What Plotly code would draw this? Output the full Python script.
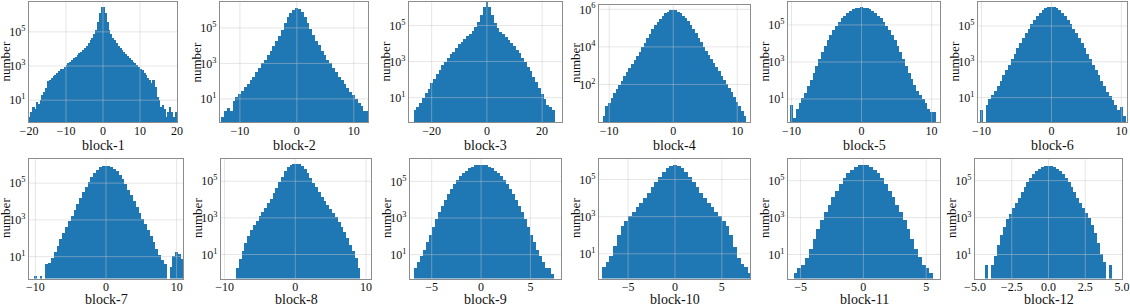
import numpy as np
import plotly.graph_objects as go

# ---------------- data: histogram bin counts per block ----------------
block_names = [f"block-{i}" for i in range(1, 13)]

b1_lo, b1_w = -20.0, 0.5
b1_counts = [1, 2, 4, 3, 8, 6, 10, 20, 32, 50, 141, 158, 200, 251, 316, 398, 501, 631, 708, 891,
             1122, 1413, 1778, 2239, 2818, 3548, 4467, 5623, 7079, 8913, 11220, 15849, 22387, 31623,
             44668, 70795, 125893, 398107, 1258925, 2818383,
             2800000, 1260000, 398000, 126000, 70800, 44700, 31600, 22400, 15800, 11200,
             8910, 6610, 5010, 3980, 3020, 2240, 1780, 1410, 1120, 891,
             708, 562, 398, 282, 200, 158, 100, 158, 63, 16, 10, 4, 5, 3, 1, 2, 4, 2, 1, 2]

b2_lo, b2_w = -13.3, 0.5
b2_counts = [1, 2, 3, 2, 8, 13, 18, 28, 45, 71, 112, 178, 316, 562, 1000, 1585, 2818, 5012, 10000, 17783,
             35481, 79433, 177828, 398107, 707946, 1047129, 1258925,
             1096478, 741310, 416869, 190546, 83176, 38019, 19055, 10471, 5248, 2951,
             1660, 1000, 562, 316, 178, 112, 66, 40, 25, 16, 10, 6, 4, 2, 2]

b3_lo, b3_w = -26.5, 1.0
b3_counts = [2, 3, 5, 10, 18, 32, 63, 112, 200, 355, 631, 1000, 1585, 2512, 3548, 5623, 8913, 12589,
             17783, 25119, 35481, 50119, 79433, 158489, 398107, 1122018, 1995262,
             1122018, 398107, 141254, 70795, 44668, 31623, 22387, 15849, 10471, 7079,
             4467, 2818, 1585, 891, 501, 282, 141, 71, 35, 16, 8, 4, 3, 2]

b4_lo, b4_w = -11.0, 0.4
b4_counts = [2, 7, 10, 18, 33, 55, 95, 160, 265, 440, 735, 1220, 2020, 3350, 5650, 9400, 16300, 28300,
             50500, 90000, 143000, 217000, 322000, 455000, 615000, 757000, 870000, 912000,
             875000, 765000, 625000, 465000, 332000, 225000, 150000, 95000, 54000, 30500,
             17800, 10300, 6200, 3700, 2230, 1350, 815, 490, 296, 178, 108, 65, 38, 22, 12, 7, 4, 2]

b5_lo, b5_w = -10.2, 0.4
b5_counts = [5, 1, 3, 6, 11, 22, 50, 112, 250, 620, 1480, 3390, 7240, 14800, 28800, 52500, 89100,
             145000, 224000, 324000, 437000, 562000, 692000, 794000, 871000, 891000,
             871000, 794000, 692000, 562000, 437000, 324000, 224000, 145000, 89100, 52500,
             28800, 14800, 7240, 3390, 1480, 630, 260, 120, 55, 27, 16, 10, 6, 3, 2, 2]

b6_lo, b6_w = -10.2, 0.4
b6_counts = [2, 0, 4, 8, 14, 25, 45, 89, 178, 355, 708, 1410, 2820, 5620, 11200, 21400, 39800, 70800,
             126000, 224000, 372000, 562000, 794000, 1000000, 1150000, 1200000,
             1150000, 1000000, 794000, 562000, 372000, 224000, 126000, 70800, 39800, 21400,
             11200, 5620, 2820, 1410, 708, 355, 178, 89, 42, 22, 12, 7, 4, 2, 3, 1]

b7_lo, b7_w = -10.2, 0.4
b7_counts = [1, 0, 1, 0, 4, 5, 9, 18, 42, 95, 200, 417, 890, 1660, 3550, 7590, 15800, 33100, 66100,
             126000, 240000, 398000, 575000, 759000, 891000, 933000,
             912000, 822000, 661000, 479000, 309000, 174000, 91200, 46800, 22900, 11000,
             5250, 2450, 1200, 617, 288, 138, 63, 28, 13, 7, 4, 0, 3, 12, 20, 14, 8]

b8_lo, b8_w = -8.4, 0.4
b8_counts = [2, 6, 16, 45, 105, 224, 417, 741, 1290, 2140, 3720, 6610, 12000, 22900, 44700, 91200,
             191000, 380000, 631000, 851000, 977000,
             977000, 891000, 692000, 468000, 282000, 158000, 89100, 50100, 27500, 15100,
             8910, 5370, 3160, 1910, 1120, 661, 355, 178, 83, 35, 16, 7, 2]

b9_lo, b9_w = -6.75, 0.3
b9_counts = [2, 4, 9, 20, 50, 126, 347, 891, 2190, 5010, 10700, 21900, 41700, 74100, 126000, 200000,
             295000, 417000, 550000, 676000, 794000, 871000, 891000,
             871000, 794000, 676000, 550000, 417000, 295000, 200000, 126000, 74100, 41700,
             21900, 10700, 5010, 2190, 891, 347, 126, 50, 20, 9, 4, 2, 2, 1]

b10_lo, b10_w = -7.8, 0.4
b10_counts = [2, 4, 8, 28, 112, 316, 631, 1120, 1910, 3390, 6030, 11200, 20900, 39800, 75900, 151000,
              282000, 437000, 575000, 631000,
              575000, 437000, 282000, 151000, 75900, 39800, 20900, 11200, 6030, 3390,
              1910, 1120, 631, 316, 112, 25, 6, 3, 2, 1]

b11_lo, b11_w = -5.55, 0.3
b11_counts = [1, 2, 3, 7, 20, 71, 251, 794, 2090, 5370, 13200, 30200, 66100, 141000, 263000, 427000,
              603000, 741000, 794000,
              741000, 603000, 427000, 263000, 141000, 66100, 30200, 13200, 5370, 2090,
              794, 251, 71, 20, 8, 3, 2, 1]

b12_lo, b12_w = -4.3, 0.2
b12_counts = [3, 0, 3, 9, 35, 123, 347, 871, 1740, 3470, 6920, 12300, 24500, 49000, 87100, 151000,
              240000, 347000, 468000, 575000, 661000, 692000, 661000, 575000, 468000, 347000,
              240000, 151000, 87100, 49000, 24500, 12300, 6920, 3470, 1800, 950, 400, 150, 45, 12,
              4, 0, 3]

bins = [(b1_lo, b1_w, b1_counts), (b2_lo, b2_w, b2_counts), (b3_lo, b3_w, b3_counts),
        (b4_lo, b4_w, b4_counts), (b5_lo, b5_w, b5_counts), (b6_lo, b6_w, b6_counts),
        (b7_lo, b7_w, b7_counts), (b8_lo, b8_w, b8_counts), (b9_lo, b9_w, b9_counts),
        (b10_lo, b10_w, b10_counts), (b11_lo, b11_w, b11_counts), (b12_lo, b12_w, b12_counts)]

x_tickvals = [[-20, -10, 0, 10, 20], [-10, 0, 10], [-20, 0, 20], [-10, 0, 10], [-10, 0, 10],
              [-10, 0, 10], [-10, 0, 10], [-10, 0, 10], [-5, 0, 5], [-5, 0, 5], [-5, 0, 5],
              [-5, -2.5, 0, 2.5, 5]]
y_tickvals_a = [10, 1000, 100000]
y_ticktext_a = ["10<sup>1</sup>", "10<sup>3</sup>", "10<sup>5</sup>"]
y_tickvals_b = [100, 10000, 1000000]
y_ticktext_b = ["10<sup>2</sup>", "10<sup>4</sup>", "10<sup>6</sup>"]

# ---------------- layout (pixels) ----------------
W, H = 1130, 306
xdom_px = [(29, 177), (220, 368), (409, 562), (599, 750), (788, 940), (978, 1127),
           (29, 183), (221, 371), (410, 561), (599, 750), (788, 940), (975, 1122)]
ydom_px = [(2, 122)] * 3 + [(5, 122)] + [(2, 122)] * 2 + [(158.5, 278.5)] * 6
x_ranges = [[-20, 20], [-13.5, 12.5], [-28.2, 27.2], [-11.6, 12.0], [-10.5, 11.2], [-10.5, 10.8],
            [-10.9, 10.9], [-10.5, 10.7], [-7.2, 8.1], [-8.1, 8.0], [-6.0, 6.1], [-5, 5]]
y_ranges = [[-0.28, 6.75], [-0.3, 6.46], [-0.35, 6.3], [0, 6.23], [-0.24, 6.24], [-0.36, 6.34],
            [-0.19, 6.34], [-0.31, 6.24], [-0.3, 6.25], [-0.33, 6.13], [-0.3, 6.2], [-0.3, 6.2]]

FONT = "Liberation Serif"
BLUE = "#1f77b4"
GRID = "rgba(200,200,200,0.45)"
FRAME = "#8c8c8c"
TXT = "#111111"


def fmt_tick(v, dec=False):
    s = f"{abs(v):.1f}" if dec else f"{abs(v):g}"
    return ("\u2212" + s) if v < 0 else s


fig = go.Figure()
annotations = []
shapes = []
for i in range(12):
    k = "" if i == 0 else str(i + 1)
    lo, w, counts = bins[i]
    centers = lo + w * (np.arange(len(counts)) + 0.5)
    yvals = [c if c > 0 else None for c in counts]
    fig.add_trace(go.Bar(x=centers, y=yvals, width=w, marker=dict(color=BLUE, line=dict(width=0)),
                         xaxis="x" + k, yaxis="y" + k, showlegend=False, hoverinfo="x+y"))
    x0, x1 = xdom_px[i]
    yt, yb = ydom_px[i]
    dec = (i == 11)
    common = dict(showgrid=False, zeroline=False,
                  showline=True, mirror=True, linecolor=FRAME, linewidth=1.2,
                  ticks="", automargin=False, layer="above traces",
                  tickfont=dict(family=FONT, size=12, color=TXT))
    fig.layout["xaxis" + k] = dict(
        domain=[x0 / W, x1 / W], range=x_ranges[i], anchor="y" + k,
        tickvals=x_tickvals[i], ticktext=[fmt_tick(v, dec) for v in x_tickvals[i]],
        ticklabelstandoff=-3, **common)
    tv, tt = (y_tickvals_b, y_ticktext_b) if i == 3 else (y_tickvals_a, y_ticktext_a)
    fig.layout["yaxis" + k] = dict(
        type="log", domain=[1 - yb / H, 1 - yt / H], range=y_ranges[i], anchor="x" + k,
        tickvals=tv, ticktext=tt, ticklabelstandoff=0, **common)
    # grid lines drawn on top of the bars (as in the reference)
    for v in x_tickvals[i]:
        if x_ranges[i][0] < v < x_ranges[i][1]:
            shapes.append(dict(type="line", xref="x" + k, yref="y" + k + " domain", x0=v, x1=v,
                               y0=0, y1=1, line=dict(color=GRID, width=1), layer="above"))
    for v in tv:
        shapes.append(dict(type="line", xref="x" + k + " domain", yref="y" + k, x0=0, x1=1,
                           y0=v, y1=v, line=dict(color=GRID, width=1), layer="above"))
    title_gap = 23 if i < 6 else 21
    annotations.append(dict(text=block_names[i], x=(x0 + x1) / 2 / W, y=1 - (yb + title_gap) / H,
                            xref="paper", yref="paper", showarrow=False, xanchor="center",
                            yanchor="middle", font=dict(family=FONT, size=14, color=TXT)))
    annotations.append(dict(text="number", x=(x0 - 23.5) / W, y=1 - (yt + yb) / 2 / H,
                            xref="paper", yref="paper", showarrow=False, xanchor="center",
                            yanchor="middle", textangle=-90,
                            font=dict(family=FONT, size=13, color=TXT)))

fig.update_layout(width=W, height=H, margin=dict(l=0, r=0, t=0, b=0), bargap=0,
                  paper_bgcolor="white", plot_bgcolor="white", annotations=annotations,
                  shapes=shapes)
fig.write_html("out.html", config={"displayModeBar": False},
               post_script="document.body.style.margin='0';")
